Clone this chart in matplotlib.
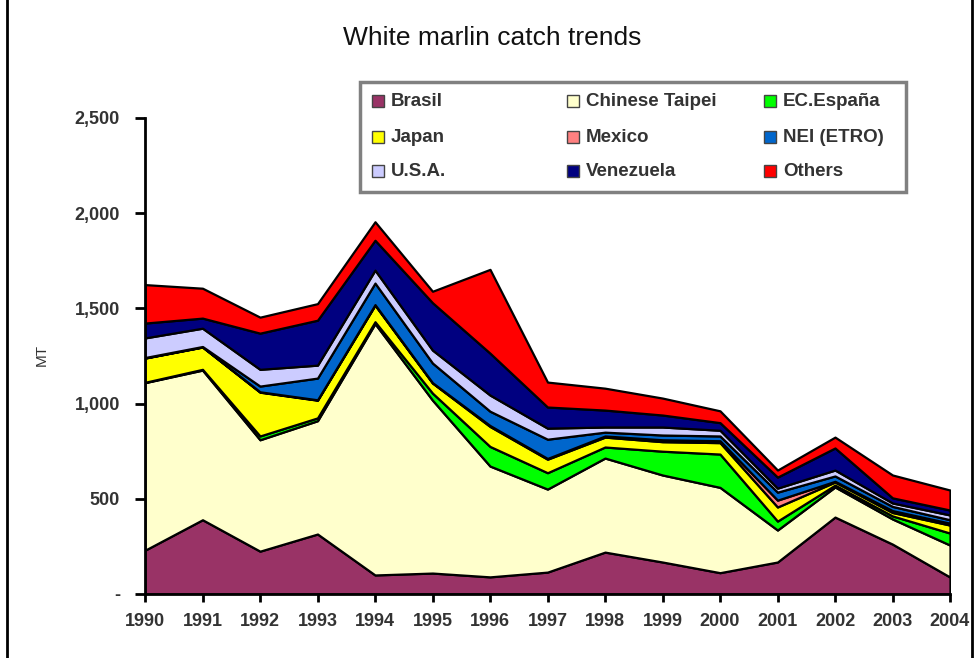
import matplotlib.pyplot as plt
from matplotlib.lines import Line2D
from matplotlib.patches import Rectangle
from matplotlib.ticker import FuncFormatter

plt.rcParams["font.family"] = ["Liberation Sans", "DejaVu Sans"]

years = list(range(1990, 2005))

# catches in MT per fleet
brasil = [230, 390, 225, 315, 100, 110, 90, 115, 220, 168, 112, 168, 404, 262, 89]
chinese_taipei = [880, 786, 585, 595, 1320, 908, 582, 436, 494, 457, 448, 168, 158, 132, 168]
ec_espana = [2, 4, 20, 15, 10, 37, 103, 86, 58, 125, 175, 47, 10, 16, 63]
japan = [127, 117, 230, 93, 87, 53, 105, 71, 52, 50, 60, 74, 16, 18, 42]
mexico = [1, 1, 2, 2, 3, 2, 5, 4, 6, 10, 10, 36, 4, 10, 10]
nei_etro = [2, 2, 30, 114, 113, 103, 75, 101, 20, 25, 25, 42, 28, 22, 18]
usa = [103, 96, 88, 68, 68, 68, 85, 58, 27, 42, 30, 21, 31, 18, 25]
venezuela = [78, 53, 190, 236, 157, 249, 220, 111, 89, 63, 40, 58, 116, 27, 26]
others = [202, 157, 84, 87, 97, 60, 440, 131, 115, 89, 62, 37, 57, 120, 105]

labels = ["Brasil", "Chinese Taipei", "EC.España", "Japan", "Mexico",
          "NEI (ETRO)", "U.S.A.", "Venezuela", "Others"]
colors = ["#993366", "#FFFFCC", "#00FF00", "#FFFF00", "#FF8080",
          "#0066CC", "#CCCCFF", "#000080", "#FF0000"]
series = [brasil, chinese_taipei, ec_espana, japan, mexico,
          nei_etro, usa, venezuela, others]

W, H = 976, 658
fig = plt.figure(figsize=(W / 100, H / 100), dpi=100)
ax = fig.add_axes([145 / W, 1 - 594 / H, (950 - 145) / W, (594 - 118) / H])

ax.stackplot(years, *series, colors=colors, edgecolor="black", linewidth=1.6)

ax.set_xlim(1990, 2004)
ax.set_ylim(0, 2500)
ax.set_xticks(years)
ax.set_yticks([0, 500, 1000, 1500, 2000, 2500])
ax.yaxis.set_major_formatter(FuncFormatter(lambda v, p: "-" if v == 0 else f"{int(v):,}"))
ax.tick_params(axis="both", direction="out", width=2, colors="black", labelcolor="#333333")
ax.tick_params(axis="y", length=7, pad=11, labelsize=13)
ax.tick_params(axis="x", length=6, pad=8, labelsize=13)
for lab in ax.get_xticklabels() + ax.get_yticklabels():
    lab.set_fontweight("bold")
for s in ["top", "right"]:
    ax.spines[s].set_visible(False)
for s in ["left", "bottom"]:
    ax.spines[s].set_linewidth(2)

fig.text(492 / W, 1 - 38 / H, "White marlin catch trends", ha="center", va="center",
         fontsize=19, color="#111111")
fig.text(42 / W, 1 - 355 / H, "MT", ha="center", va="center", rotation=90,
         fontsize=11, color="#333333")

# legend box, laid out row by row like the original
fig.add_artist(Rectangle((360 / W, 1 - 192 / H), (906 - 360) / W, (192 - 82) / H,
                         transform=fig.transFigure, facecolor="white",
                         edgecolor="#808080", linewidth=2.5))
col_x = [372, 567, 764]
row_y = [101, 137, 171]
for i, (lab, c) in enumerate(zip(labels, colors)):
    r, k = divmod(i, 3)
    x0, y0 = col_x[k], row_y[r]
    fig.add_artist(Rectangle((x0 / W, 1 - (y0 + 6) / H), 12 / W, 12 / H,
                             transform=fig.transFigure, facecolor=c,
                             edgecolor="#444444", linewidth=1))
    fig.text((x0 + 19) / W, 1 - y0 / H, lab, ha="left", va="center",
             fontsize=13.5, fontweight="bold", color="#333333")

# page frame lines
fig.add_artist(Rectangle((973 / W, 0), 3 / W, 1, transform=fig.transFigure,
                         facecolor="white", edgecolor="none", zorder=10))
fig.add_artist(Line2D([7 / W, 7 / W], [0, 1], transform=fig.transFigure,
                      color="black", linewidth=2, zorder=11))
fig.add_artist(Line2D([972 / W, 972 / W], [0, 1], transform=fig.transFigure,
                      color="black", linewidth=2, zorder=11))

fig.savefig("out.png", dpi=100)
